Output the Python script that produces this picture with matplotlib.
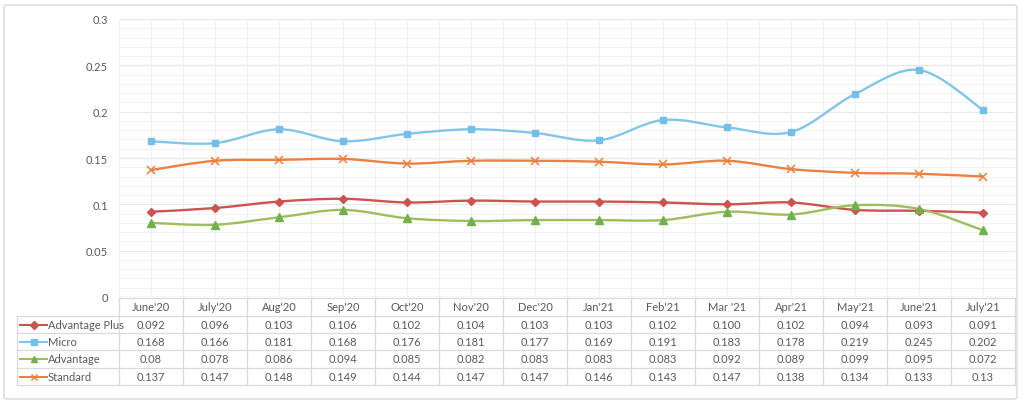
import matplotlib
matplotlib.use('Agg')
import matplotlib.pyplot as plt
import matplotlib.patches as patches
from matplotlib.path import Path
from matplotlib.lines import Line2D
import numpy as np

plt.rcParams['font.family'] = ['Lato', 'DejaVu Sans']

# 数据
months = ["June'20", "July'20", "Aug'20", "Sep'20", "Oct'20", "Nov'20", "Dec'20",
          "Jan'21", "Feb'21", "Mar '21", "Apr'21", "May'21", "June'21", "July'21"]
advantage_plus = [0.092, 0.096, 0.103, 0.106, 0.102, 0.104, 0.103, 0.103, 0.102, 0.100, 0.102, 0.094, 0.093, 0.091]
micro = [0.168, 0.166, 0.181, 0.168, 0.176, 0.181, 0.177, 0.169, 0.191, 0.183, 0.178, 0.219, 0.245, 0.202]
advantage = [0.08, 0.078, 0.086, 0.094, 0.085, 0.082, 0.083, 0.083, 0.083, 0.092, 0.089, 0.099, 0.095, 0.072]
standard = [0.137, 0.147, 0.148, 0.149, 0.144, 0.147, 0.147, 0.146, 0.143, 0.147, 0.138, 0.134, 0.133, 0.13]
# 表格里显示的文字
advantage_plus_txt = ['0.092', '0.096', '0.103', '0.106', '0.102', '0.104', '0.103', '0.103', '0.102', '0.100', '0.102', '0.094', '0.093', '0.091']
micro_txt = ['0.168', '0.166', '0.181', '0.168', '0.176', '0.181', '0.177', '0.169', '0.191', '0.183', '0.178', '0.219', '0.245', '0.202']
advantage_txt = ['0.08', '0.078', '0.086', '0.094', '0.085', '0.082', '0.083', '0.083', '0.083', '0.092', '0.089', '0.099', '0.095', '0.072']
standard_txt = ['0.137', '0.147', '0.148', '0.149', '0.144', '0.147', '0.147', '0.146', '0.143', '0.147', '0.138', '0.134', '0.133', '0.13']
ytick_vals = [0, 0.05, 0.1, 0.15, 0.2, 0.25, 0.3]
ytick_labels = ['0', '0.05', '0.1', '0.15', '0.2', '0.25', '0.3']

series = [
    ('Advantage Plus', advantage_plus, advantage_plus_txt, '#CB5451', '#CB5451', 'D', 4.5),
    ('Micro', micro, micro_txt, '#82C5E8', '#72BFE8', 's', 5),
    ('Advantage', advantage, advantage_txt, '#9EBE5E', '#72B04E', '^', 6),
    ('Standard', standard, standard_txt, '#EC8040', '#EC8040', 'x', 5.5),
]

TEXT = '#595959'
W, H = 1024, 406


def smooth_path(xs, ys):
    """Excel风格平滑曲线 (Catmull-Rom -> Bezier)"""
    pts = np.column_stack([xs, ys]).astype(float)
    p = np.vstack([pts[0], pts, pts[-1]])
    verts = [pts[0]]
    codes = [Path.MOVETO]
    for i in range(1, len(p) - 2):
        c1 = p[i] + (p[i + 1] - p[i - 1]) / 6
        c2 = p[i + 1] - (p[i + 2] - p[i]) / 6
        verts += [c1, c2, p[i + 1]]
        codes += [Path.CURVE4] * 3
    return Path(verts, codes)


fig = plt.figure(figsize=(W / 100, H / 100), dpi=100)

# 外框
frame = patches.FancyBboxPatch((4 / W, 6 / H), 1013 / W, 394 / H,
                               boxstyle='round,pad=0,rounding_size=0.004',
                               transform=fig.transFigure, fill=False,
                               edgecolor='#D9D9D9', linewidth=1)
fig.patches.append(frame)

left, right, top, bottom = 119, 1015, 20, 298
ax = fig.add_axes([left / W, 1 - bottom / H, (right - left) / W, (bottom - top) / H])
n = len(months)
x = np.arange(n)
ax.set_xlim(-0.5, n - 0.5)
ax.set_ylim(0, 0.3)

# 网格线
for yv in np.arange(0.01, 0.3001, 0.01):
    major = abs(yv / 0.05 - round(yv / 0.05)) < 1e-6
    ax.axhline(yv, color='#E8E8E8' if major else '#F3F3F3', lw=0.8, zorder=0)
for xv in np.arange(-0.5, n, 0.5):
    ax.axvline(xv, color='#F0F0F0', lw=0.8, zorder=0)
ax.axhline(0, color='#D9D9D9', lw=1, zorder=1)

for name, vals, txt, lc, mc, mk, ms in series:
    pth = smooth_path(x, vals)
    ax.add_patch(patches.PathPatch(pth, fill=False, edgecolor=lc, lw=1.7, zorder=3,
                                   capstyle='round', joinstyle='round'))
    if mk == 'x':
        ax.plot(x, vals, ls='none', marker=mk, ms=ms, mew=1.1, color=mc, zorder=4)
    else:
        ax.plot(x, vals, ls='none', marker=mk, ms=ms, mfc=mc, mec=mc, zorder=4)

for s in ax.spines.values():
    s.set_visible(False)
ax.set_xticks([])
ax.set_yticks(ytick_vals)
ax.set_yticklabels(ytick_labels, fontsize=8, color=TEXT)
ax.tick_params(axis='y', length=0, pad=8)

# 数据表
tab_left = 17
col_w = (right - left) / n
rows_y = [299, 317, 334, 351, 369, 386]
tax = fig.add_axes([0, 0, 1, 1])
tax.set_xlim(0, W)
tax.set_ylim(H, 0)
tax.axis('off')
tax.patch.set_alpha(0)

lc_tab = '#DADADA'
tax.plot([left, right], [rows_y[0]] * 2, color=lc_tab, lw=0.9)
for ry in rows_y[1:]:
    tax.plot([tab_left, right], [ry, ry], color=lc_tab, lw=0.9)
for i in range(n + 1):
    xv = left + i * col_w
    tax.plot([xv, xv], [rows_y[0], rows_y[-1]], color=lc_tab, lw=0.9)
tax.plot([tab_left, tab_left], [rows_y[1], rows_y[-1]], color=lc_tab, lw=0.9)

for i, m in enumerate(months):
    tax.text(left + (i + 0.5) * col_w, (rows_y[0] + rows_y[1]) / 2, m,
             ha='center', va='center', fontsize=8, color=TEXT)

for r, (name, vals, txt, lc, mc, mk, ms) in enumerate(series):
    yc = (rows_y[r + 1] + rows_y[r + 2]) / 2
    tax.add_line(Line2D([20, 47], [yc, yc], color=lc, lw=1.5))
    if mk == 'x':
        tax.add_line(Line2D([33.5], [yc], marker=mk, ms=4.5, mew=1.0, color=mc))
    else:
        tax.add_line(Line2D([33.5], [yc], marker=mk, ms=4 if mk != '^' else 5,
                            mfc=mc, mec=mc, ls='none'))
    tax.text(48, yc, name, ha='left', va='center', fontsize=8, color=TEXT)
    for i, t in enumerate(txt):
        tax.text(left + (i + 0.5) * col_w, yc, t, ha='center', va='center',
                 fontsize=8, color=TEXT)

fig.savefig('out.png', dpi=100)
